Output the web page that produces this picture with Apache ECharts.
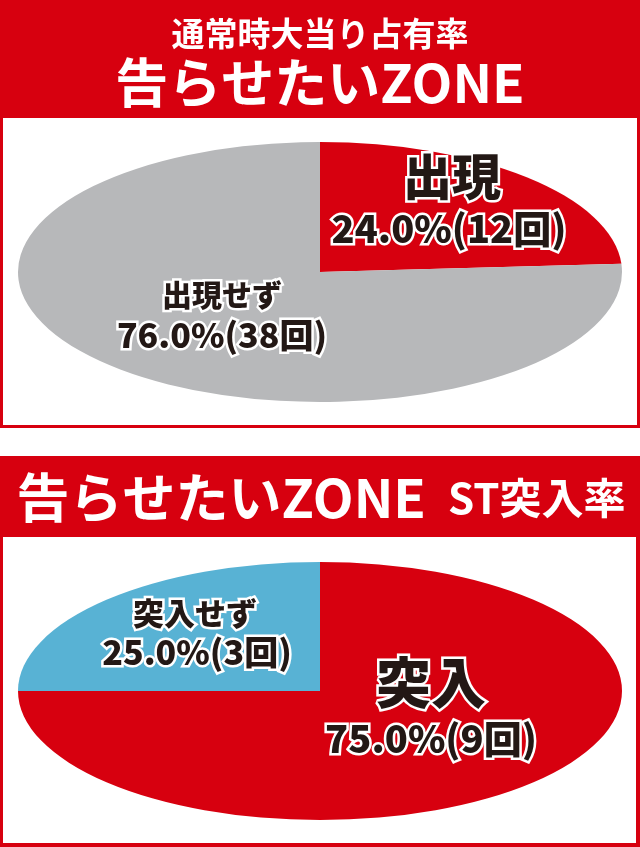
<!DOCTYPE html>
<html><head><meta charset="utf-8">
<script src="https://cdn.jsdelivr.net/npm/echarts@6/dist/echarts.min.js"></script>
<style>html,body{margin:0;padding:0;background:#fff}#c{width:640px;height:847px}</style>
</head><body><div id="c"></div>
<script>
// ---- data ----
const chart1TitleTop = '通常時大当り占有率';
const chart1TitleMain = '告らせたいZONE';
const chart1Names = ['出現', '出現せず'];
const chart1Counts = [12, 38];
const chart1Percents = [24.0, 76.0];

const chart2TitleMain = '告らせたいZONE';
const chart2TitleSuffix = 'ST突入率';
const chart2Names = ['突入', '突入せず'];
const chart2Counts = [9, 3];
const chart2Percents = [75.0, 25.0];

// ---- styles / layout ----
const RED = '#d7000f';
const chart1Colors = [RED, '#b7b8ba'];
const chart2Colors = [RED, '#58b2d4'];
const FONT = '"Noto Sans CJK JP", "Noto Sans", sans-serif';
const INK = '#231815';

const pie1Layout = {cx: 320, cy: 272, rx: 302, ry: 130,
  labels: [
    {name: [452, 176, 49], value: [449, 229, 38]},
    {name: [222, 295, 30], value: [222, 335, 34]}
  ]};
const pie2Layout = {cx: 320, cy: 691, rx: 302, ry: 129,
  labels: [
    {name: [431, 682, 55], value: [431, 739, 38]},
    {name: [195, 613, 31], value: [197, 652, 34]}
  ]};

function ellipsePie(names, percents, counts, colors, layout) {
  const total = percents.reduce((a, b) => a + b, 0);
  const data = percents.map((p, i) => ({name: names[i], value: p}));
  return {
    type: 'custom',
    coordinateSystem: 'none',
    silent: true,
    data: data,
    renderItem: function (params, api) {
      const i = params.dataIndex;
      let before = 0;
      for (let k = 0; k < i; k++) before += percents[k];
      const start = -Math.PI / 2 + before / total * Math.PI * 2;
      const end = start + percents[i] / total * Math.PI * 2;
      const lab = layout.labels[i];
      const txt = (pos, s) => ({
        type: 'text', z2: 10, x: pos[0], y: pos[1],
        style: {
          text: s, fill: INK, stroke: '#fff', lineWidth: 5,
          font: '900 ' + pos[2] + 'px ' + FONT,
          align: 'center', verticalAlign: 'middle'
        }
      });
      return {
        type: 'group',
        children: [
          {
            type: 'sector', z2: 1,
            x: layout.cx, y: layout.cy, scaleX: 1, scaleY: layout.ry / layout.rx,
            shape: {cx: 0, cy: 0, r0: 0, r: layout.rx, startAngle: start, endAngle: end, clockwise: true},
            style: {fill: colors[i]}
          },
          txt(lab.name, names[i]),
          txt(lab.value, percents[i].toFixed(1) + '%(' + counts[i] + '回)')
        ]
      };
    }
  };
}

const chart = echarts.init(document.getElementById('c'));
chart.setOption({
  animation: false,
  backgroundColor: '#fff',
  graphic: [
    // box 1
    {type: 'rect', z: 0, shape: {x: 0, y: 0, width: 640, height: 428}, style: {fill: RED}},
    {type: 'rect', z: 1, shape: {x: 3, y: 118, width: 634, height: 307}, style: {fill: '#fff'}},
    // box 2
    {type: 'rect', z: 0, shape: {x: 0, y: 456, width: 640, height: 391}, style: {fill: RED}},
    {type: 'rect', z: 1, shape: {x: 3, y: 537, width: 633, height: 306}, style: {fill: '#fff'}},
    // header texts
    {type: 'text', z: 2, x: 320, y: 33, style: {text: chart1TitleTop, fill: '#fff',
      font: 'bold 33px ' + FONT, align: 'center', verticalAlign: 'middle'}},
    {type: 'text', z: 2, x: 320, y: 83, style: {text: chart1TitleMain, fill: '#fff',
      font: 'bold 53px ' + FONT, align: 'center', verticalAlign: 'middle'}},
    {type: 'text', z: 2, x: 321, y: 498, style: {
      text: '{a|' + chart2TitleMain + '}{s|　}{b|' + chart2TitleSuffix + '}',
      align: 'center', verticalAlign: 'middle',
      rich: {
        a: {fill: '#fff', font: 'bold 53px ' + FONT, verticalAlign: 'middle'},
        s: {fill: '#fff', font: 'bold 22px ' + FONT, verticalAlign: 'middle'},
        b: {fill: '#fff', font: 'bold 42px ' + FONT, verticalAlign: 'middle'}
      }}}
  ],
  series: [
    ellipsePie(chart1Names, chart1Percents, chart1Counts, chart1Colors, pie1Layout),
    ellipsePie(chart2Names, chart2Percents, chart2Counts, chart2Colors, pie2Layout)
  ]
});
</script>
</body></html>
